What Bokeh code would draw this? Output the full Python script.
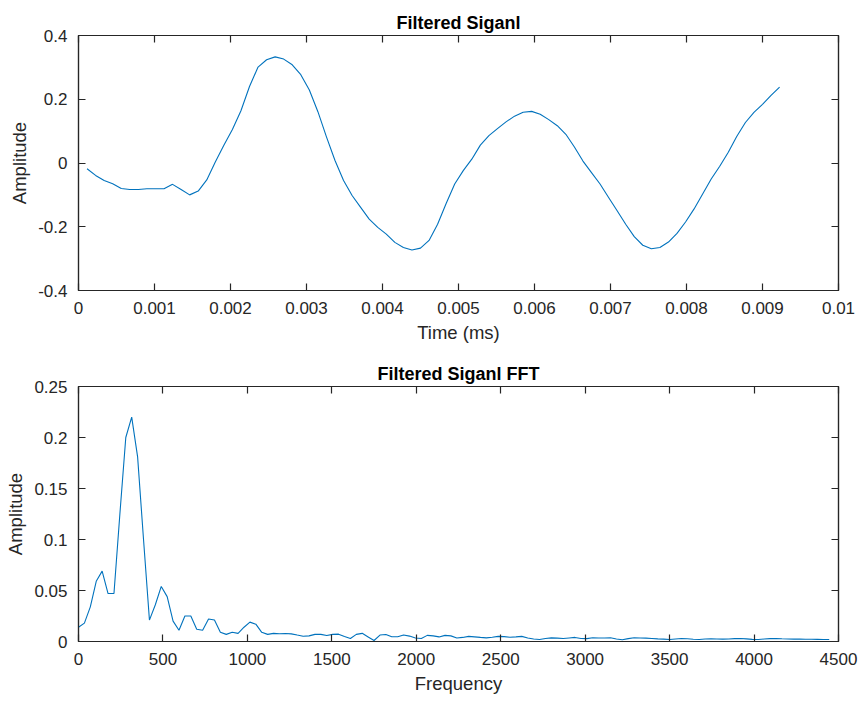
import numpy as np
from bokeh.plotting import figure
from bokeh.models import LinearAxis, Range1d, FixedTicker, CustomJSTickFormatter
from bokeh.layouts import column
from bokeh.embed import file_html
from bokeh.resources import INLINE

# ---------------- data ----------------
sample_period_ms = 0.0001125
time_ms = np.arange(1, 83) * sample_period_ms          # sampling grid
filtered_amplitude = [
    -0.018, -0.039, -0.055, -0.065, -0.080, -0.083, -0.083, -0.081, -0.081, -0.081,
    -0.067, -0.083, -0.100, -0.088, -0.053, 0.003, 0.056, 0.105, 0.164, 0.240,
    0.301, 0.324, 0.333, 0.326, 0.308, 0.277, 0.229, 0.161, 0.082, 0.008,
    -0.055, -0.102, -0.139, -0.176, -0.202, -0.223, -0.249, -0.265, -0.273, -0.267,
    -0.243, -0.192, -0.127, -0.066, -0.024, 0.012, 0.056, 0.086, 0.108, 0.129,
    0.147, 0.159, 0.162, 0.153, 0.136, 0.117, 0.090, 0.050, 0.006, -0.030,
    -0.066, -0.108, -0.150, -0.192, -0.231, -0.258, -0.269, -0.265, -0.248, -0.221,
    -0.185, -0.144, -0.097, -0.050, -0.010, 0.034, 0.084, 0.127, 0.159, 0.184,
    0.212, 0.238,
]

freq_step_hz = 35.0
frequency_hz = np.arange(0, 128) * freq_step_hz          # FFT bin grid
fft_amplitude = [
    0.014, 0.018, 0.034, 0.059, 0.069, 0.047, 0.047, 0.125, 0.200, 0.220,
    0.181, 0.100, 0.021, 0.036, 0.054, 0.044, 0.020, 0.011, 0.025, 0.025,
    0.012, 0.011, 0.022, 0.021, 0.009, 0.007, 0.009, 0.008, 0.014, 0.019,
    0.017, 0.009, 0.007, 0.008, 0.0076, 0.0078, 0.0075, 0.0063, 0.0052, 0.0055,
    0.007, 0.007, 0.0058, 0.007, 0.0072, 0.005, 0.003, 0.007, 0.008, 0.0045,
    0.001, 0.0063, 0.0069, 0.0046, 0.0046, 0.0063, 0.0053, 0.0035, 0.003, 0.006,
    0.0055, 0.0045, 0.006, 0.0055, 0.0035, 0.004, 0.005, 0.0045, 0.004, 0.0036,
    0.0042, 0.005, 0.0048, 0.0042, 0.0045, 0.005, 0.0035, 0.0025, 0.002, 0.003,
    0.0036, 0.0033, 0.003, 0.0035, 0.004, 0.003, 0.0028, 0.0036, 0.0034, 0.0034,
    0.0036, 0.0025, 0.0017, 0.0028, 0.0036, 0.0035, 0.0033, 0.003, 0.0026, 0.0023,
    0.002, 0.0025, 0.003, 0.0027, 0.0022, 0.002, 0.0024, 0.0026, 0.0025, 0.0023,
    0.0025, 0.0028, 0.003, 0.0026, 0.0021, 0.002, 0.0024, 0.0028, 0.003, 0.0027,
    0.0025, 0.0023, 0.0023, 0.0022, 0.0022, 0.0021, 0.002, 0.002,
]

time_ticks = [0, 0.001, 0.002, 0.003, 0.004, 0.005, 0.006, 0.007, 0.008, 0.009, 0.01]
signal_ticks = [-0.4, -0.2, 0, 0.2, 0.4]
freq_ticks = [0, 500, 1000, 1500, 2000, 2500, 3000, 3500, 4000, 4500]
fft_ticks = [0, 0.05, 0.1, 0.15, 0.2, 0.25]

# ---------------- style ----------------
AX = "#262626"
LINE = "#0072BD"
FONT = "Liberation Sans"
TICK_FS = "17px"
LABEL_FS = "18.5px"
TITLE_FS = "18px"


def styled_axis(ticks, labels=True, label_text=None):
    ax = LinearAxis(ticker=FixedTicker(ticks=ticks))
    ax.axis_line_color = AX
    ax.axis_line_width = 1.2
    ax.major_tick_line_color = AX
    ax.major_tick_line_width = 1.2
    ax.major_tick_in = 7
    ax.major_tick_out = 0
    ax.minor_tick_line_color = None
    if labels:
        ax.formatter = CustomJSTickFormatter(code="return tick.toString();")
        ax.major_label_text_font = FONT
        ax.major_label_text_font_size = TICK_FS
        ax.major_label_text_color = AX
        ax.major_label_standoff = 11
        ax.axis_label = label_text
        ax.axis_label_text_font = FONT
        ax.axis_label_text_font_size = LABEL_FS
        ax.axis_label_text_font_style = "normal"
        ax.axis_label_text_color = AX
        ax.axis_label_standoff = 5
    else:
        ax.formatter = CustomJSTickFormatter(code="return '';")
        ax.major_label_text_font_size = "0px"
        ax.major_label_standoff = 0
    return ax


def make_fig(height, border_top, border_bottom, xr, yr, xt, yt, title, xlabel, ylabel):
    p = figure(width=867, height=height,
               x_range=Range1d(*xr), y_range=Range1d(*yr),
               output_backend="svg", toolbar_location=None,
               x_axis_location=None, y_axis_location=None,
               min_border_left=78, min_border_right=29,
               min_border_top=border_top, min_border_bottom=border_bottom)
    p.grid.visible = False
    p.outline_line_color = AX
    p.outline_line_width = 1.2
    p.background_fill_color = "white"
    p.border_fill_color = "white"
    p.title.text = title
    p.title.align = "center"
    p.title.text_font = FONT
    p.title.text_font_size = TITLE_FS
    p.title.text_font_style = "bold"
    p.title.text_color = "black"
    p.title.standoff = 5
    p.add_layout(styled_axis(xt, True, xlabel), "below")
    p.add_layout(styled_axis(yt, True, ylabel), "left")
    p.add_layout(styled_axis(xt, False), "above")
    p.add_layout(styled_axis(yt, False), "right")
    return p


p1 = make_fig(350, 35, 60, (0, 0.01), (-0.4, 0.4), time_ticks, signal_ticks,
              "Filtered Siganl", "Time (ms)", "Amplitude")
p1.line(time_ms, filtered_amplitude, line_color=LINE, line_width=1.1)

p2 = make_fig(351, 36, 60, (0, 4500), (0, 0.25), freq_ticks, fft_ticks,
              "Filtered Siganl FFT", "Frequency", "Amplitude")
p2.line(frequency_hz, fft_amplitude, line_color=LINE, line_width=1.1)

layout = column(p1, p2, spacing=0)
open("out.html", "w").write(file_html(layout, INLINE))
